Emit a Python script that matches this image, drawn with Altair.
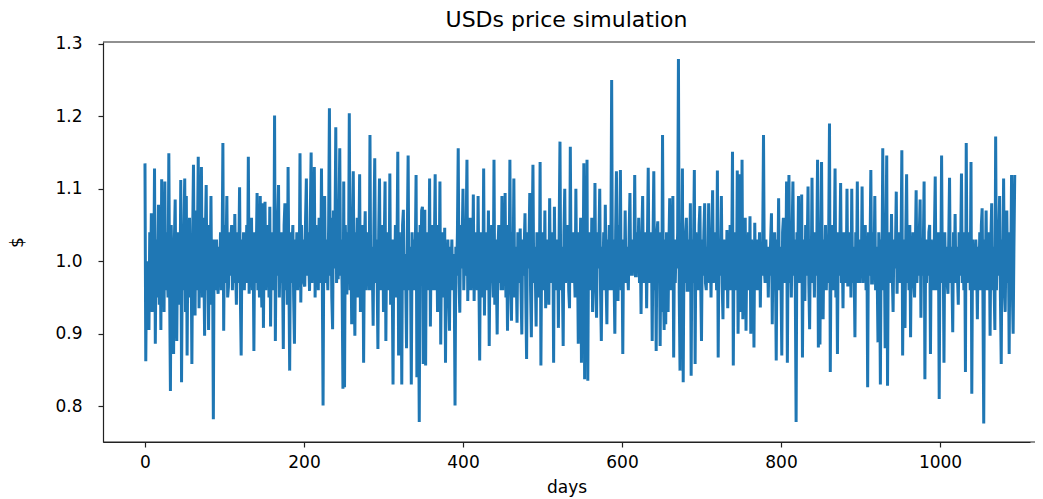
import altair as alt
import pandas as pd

# Simulated USDs price, one value per day
price_y1 = [
    1.135, 0.862, 1.00, 0.95, 0.99, 0.905, 1.04, 0.96, 1.066, 0.93,
    1.02, 0.97, 1.128, 0.886, 1.03, 0.95, 1.00, 1.078, 0.94, 1.05,
    0.905, 1.113, 0.97, 1.06, 0.93, 1.11, 0.96, 1.04, 0.99, 0.95,
    1.149, 0.96, 0.821, 1.05, 0.98, 1.02, 0.872, 1.03, 1.085, 0.95,
    0.89, 1.04, 0.97, 1.01, 0.94, 1.112, 0.833, 1.02, 0.96, 1.05,
    1.114, 0.93, 1.09, 0.87, 1.03, 0.98, 1.06, 0.95, 1.02, 0.858,
    1.04, 1.133, 0.97, 0.925, 1.07, 0.96, 1.03, 1.144, 0.935, 1.05,
    0.98, 1.13, 0.95, 1.06, 1.00, 0.897, 1.04, 1.105, 0.96, 1.02,
    0.905, 1.05, 0.97, 1.09, 0.94, 1.01, 0.782, 1.03, 0.96, 1.00,
    1.03, 0.97, 0.955, 1.02, 0.98, 1.04, 0.96, 1.01, 1.163, 0.904,
    1.05, 0.97, 1.02, 1.09, 0.95, 0.965, 1.04, 0.98, 1.03, 1.05,
    0.96, 1.02, 0.97, 1.065, 0.99, 0.94, 1.04, 0.97, 1.01, 1.102,
    0.95, 0.87, 1.03, 0.98, 1.04, 0.96, 1.02, 0.99, 1.05, 0.97,
    1.144, 0.955, 1.02, 0.98, 1.06, 0.96, 1.03, 0.876, 1.04, 0.97,
    1.01, 1.094, 0.96, 1.03, 0.95, 1.09, 0.99, 0.936, 1.08, 0.908,
    1.04, 1.082, 0.96, 1.02, 0.98, 1.05, 0.95, 1.075, 0.91, 1.03,
    0.97, 1.04, 0.96, 1.201, 0.89, 1.03, 0.98, 1.06, 1.105, 0.95,
    1.02, 0.97, 1.04, 0.99, 0.879, 1.05, 1.08, 0.96, 1.02, 0.94,
    1.13, 0.98, 0.849, 1.04, 0.97, 1.02, 1.05, 0.95, 0.886, 1.03,
    0.98, 1.04, 0.96, 1.01, 0.97, 1.149, 0.943, 1.05, 0.99, 1.03,
    0.97, 0.965, 1.06, 1.114, 0.98, 1.04, 1.00, 0.959, 1.07, 1.15,
    0.97, 1.03, 0.99, 1.13, 0.95, 1.05, 0.98, 1.02, 0.96, 1.06,
    1.00, 0.97, 1.128, 0.98, 0.801, 1.04, 1.09, 0.97, 1.03, 1.00,
    0.96, 1.05, 1.211, 0.98, 1.06, 0.95, 0.906, 1.07, 0.99, 1.04,
    1.185, 0.97, 1.02, 0.975, 1.06, 1.156, 0.98, 1.03, 0.96, 0.824,
    1.11, 0.826, 1.05, 0.99, 0.954, 1.04, 0.98, 1.204, 0.96, 1.03,
    0.913, 1.05, 1.124, 0.97, 0.897, 1.04, 0.99, 1.06, 0.95, 1.02,
    1.12, 0.93, 1.03, 0.98, 1.05, 0.86, 1.02, 1.069, 0.96, 1.01,
    0.97, 1.04, 0.96, 1.174, 0.96, 1.02, 0.99, 0.911, 1.05, 1.142,
    0.97, 1.03, 0.98, 0.879, 1.04, 1.114, 0.96, 1.02, 0.99, 1.05,
    0.93, 1.03, 1.11, 0.89, 1.04, 0.97, 1.01, 0.96, 1.121, 0.94,
    1.03, 0.98, 0.83, 1.03, 0.97, 1.05, 0.95, 1.02, 1.151, 0.87,
    1.04, 0.98, 1.02, 0.83, 1.05, 1.071, 0.96, 1.01, 0.97, 0.88,
    1.04, 1.146, 0.96, 1.02, 0.99, 0.83, 1.04, 0.98, 1.03, 0.96,
    1.01, 1.119, 0.84, 1.04, 0.97, 0.778, 1.05, 0.98, 1.07, 1.075,
    0.858, 1.03, 1.071, 0.856, 1.04, 0.97, 1.02, 0.96, 1.114, 0.91,
    1.03, 0.98, 1.05, 0.96, 1.02,
]

price_y2 = [
    1.12, 0.96, 1.03, 0.93, 1.05, 0.98, 1.11, 0.885, 1.02, 0.97,
    1.04, 0.95, 1.046, 0.86, 1.01, 0.97, 1.03, 0.95, 0.904, 1.02,
    0.98, 1.03, 0.96, 1.01, 0.97, 0.801, 1.02, 0.98, 1.04, 1.156,
    0.97, 0.929, 1.05, 0.99, 1.03, 1.10, 0.96, 1.02, 0.98, 1.05,
    1.14, 0.945, 1.03, 0.99, 1.06, 0.96, 1.01, 0.98, 1.092, 0.945,
    1.04, 0.99, 1.02, 0.96, 1.09, 0.98, 0.863, 1.04, 0.97, 1.02,
    0.95, 1.128, 0.925, 1.04, 0.98, 1.03, 0.96, 1.07, 0.883, 1.02,
    0.97, 1.05, 0.99, 0.95, 1.14, 0.94, 1.03, 0.98, 0.899, 1.02,
    1.05, 0.97, 1.01, 0.96, 1.09, 0.96, 1.03, 0.98, 1.094, 0.95,
    1.02, 0.904, 1.05, 0.97, 1.14, 0.96, 0.918, 1.04, 0.99, 1.114,
    0.95, 1.02, 0.98, 0.915, 1.04, 0.97, 1.01, 1.045, 0.96, 0.899,
    1.03, 0.98, 1.02, 1.066, 0.95, 0.865, 1.04, 0.99, 1.02, 1.094,
    0.96, 0.895, 1.03, 1.133, 0.97, 1.02, 0.98, 0.91, 1.04, 0.97,
    1.03, 0.95, 1.137, 0.856, 1.02, 0.98, 1.04, 0.96, 1.07, 0.935,
    1.02, 0.99, 1.03, 0.94, 1.087, 0.97, 1.02, 0.98, 1.04, 0.86,
    1.075, 0.97, 1.01, 0.96, 1.03, 0.908, 1.05, 1.165, 0.96, 1.02,
    0.98, 0.883, 1.04, 1.10, 0.97, 1.02, 0.99, 1.05, 0.96, 0.935,
    1.158, 0.98, 1.03, 0.97, 1.04, 0.99, 0.95, 1.10, 0.97, 1.02,
    0.886, 1.04, 0.98, 1.06, 0.86, 1.05, 0.97, 1.135, 0.837, 1.03,
    0.98, 1.14, 0.835, 1.04, 0.97, 1.02, 0.96, 1.06, 0.93, 1.03,
    0.98, 1.108, 0.96, 0.922, 1.04, 0.99, 1.03, 1.10, 0.96, 0.89,
    1.02, 0.98, 1.04, 0.96, 1.078, 0.97, 0.913, 1.03, 0.99, 1.05,
    0.96, 1.02, 1.25, 0.96, 1.03, 0.98, 0.90, 1.04, 1.124, 0.97,
    0.945, 1.05, 0.99, 1.126, 0.96, 1.02, 0.872, 1.03, 0.98, 1.07,
    0.97, 1.02, 0.99, 0.96, 1.04, 1.094, 0.98, 1.03, 0.98, 1.01,
    0.99, 1.119, 0.98, 0.98, 1.04, 1.00, 1.06, 0.97, 1.02, 0.927,
    1.04, 1.09, 0.97, 1.02, 0.99, 1.04, 0.935, 1.03, 1.129, 0.97,
    1.02, 0.98, 1.04, 0.89, 1.03, 1.124, 0.96, 1.02, 0.876, 1.04,
    1.055, 0.97, 1.02, 0.883, 1.04, 0.93, 1.174, 0.97, 0.905, 1.03,
    0.913, 1.04, 0.98, 0.93, 1.02, 1.087, 0.96, 1.03, 0.98, 1.09,
    0.867, 1.03, 0.97, 1.02, 0.99, 1.04, 1.279, 0.955, 0.849, 1.04,
    0.98, 1.128, 0.833, 1.02, 0.97, 1.04, 1.06, 0.96, 0.96, 1.03,
    0.99, 1.08, 0.842, 1.03, 0.97, 1.02, 1.126, 0.858, 1.04, 0.98,
    1.02, 0.96, 1.05, 1.076, 0.97, 0.89, 1.03, 0.98, 1.04, 1.08,
    0.97, 0.96, 1.02, 0.98, 1.08, 0.97, 1.02, 0.95, 1.04, 1.098,
    0.97, 1.02, 0.98, 1.04, 0.96, 1.125, 0.867, 1.03, 0.98, 1.02,
    1.09, 0.97, 0.92, 1.03, 0.99,
]

price_y3 = [
    1.02, 0.96, 1.043, 0.935, 1.03, 0.98, 1.05, 0.96, 1.01, 1.151,
    0.856, 1.03, 0.98, 1.04, 0.96, 1.125, 0.90, 1.02, 1.12, 0.97,
    0.93, 1.14, 0.92, 1.03, 0.98, 1.06, 0.904, 1.02, 0.97, 1.04,
    0.96, 1.062, 0.90, 1.03, 0.98, 1.02, 0.881, 1.053, 0.97, 1.01,
    0.96, 1.03, 0.99, 1.04, 0.936, 1.02, 0.98, 1.03, 1.174, 0.99,
    0.97, 1.03, 0.98, 1.02, 0.95, 1.01, 0.98, 1.03, 1.066, 0.913,
    1.02, 0.97, 1.04, 0.99, 0.863, 1.03, 0.98, 1.087, 0.96, 1.02,
    0.97, 0.87, 1.04, 1.06, 0.97, 1.02, 0.98, 1.11, 0.86, 1.03,
    1.119, 0.97, 1.02, 0.95, 1.04, 1.11, 0.98, 1.03, 0.96, 0.778,
    1.04, 0.99, 1.09, 0.97, 1.02, 0.98, 1.092, 0.867, 1.03, 0.99,
    0.945, 1.05, 0.98, 1.02, 1.103, 0.97, 0.906, 1.03, 0.98, 1.115,
    0.97, 1.02, 0.95, 1.04, 0.98, 1.02, 1.14, 0.881, 1.03, 0.885,
    1.04, 1.137, 0.97, 0.92, 1.03, 0.98, 1.05, 0.96, 1.02, 0.97,
    1.04, 1.19, 0.847, 1.03, 0.98, 1.05, 0.96, 1.02, 1.128, 0.95,
    1.03, 0.872, 1.04, 0.98, 1.02, 1.108, 0.97, 1.02, 0.935, 1.04,
    0.98, 1.03, 0.97, 1.10, 0.965, 1.02, 0.99, 1.04, 0.95, 1.10,
    0.97, 1.02, 0.99, 0.895, 1.04, 0.98, 1.11, 0.97, 1.03, 0.97,
    1.02, 0.98, 1.103, 0.97, 1.02, 0.99, 1.05, 0.96, 1.03, 0.826,
    1.04, 0.98, 1.02, 1.126, 0.97, 0.97, 1.04, 0.99, 1.09, 0.96,
    1.02, 0.98, 0.888, 1.04, 1.00, 0.83, 1.03, 0.98, 1.156, 0.96,
    1.02, 0.88, 1.04, 1.146, 0.828, 1.03, 0.98, 1.04, 0.97, 1.065,
    0.98, 0.93, 1.03, 0.99, 1.02, 1.096, 0.955, 1.03, 0.98, 1.04,
    0.97, 1.02, 1.153, 0.87, 1.03, 0.98, 0.908, 1.04, 1.12, 0.97,
    1.02, 0.96, 1.05, 0.895, 1.03, 0.98, 1.04, 0.97, 0.95, 1.02,
    1.098, 0.97, 1.02, 0.98, 1.04, 1.085, 0.922, 1.03, 0.98, 1.02,
    1.11, 0.837, 1.03, 0.97, 1.02, 0.98, 1.04, 1.05, 0.872, 1.03,
    0.98, 1.02, 0.96, 1.04, 1.117, 0.96, 1.02, 0.98, 1.04, 0.81,
    1.03, 0.98, 1.146, 0.97, 1.02, 0.86, 1.04, 0.98, 1.02, 0.97,
    0.955, 1.03, 1.115, 0.97, 1.02, 0.98, 0.902, 1.04, 0.98, 1.065,
    0.97, 1.02, 0.98, 0.94, 1.04, 0.98, 1.02, 1.121, 0.97, 1.02,
    0.96, 1.04, 0.847, 1.163, 0.97, 1.02, 0.98, 1.04, 0.96, 1.137,
    0.817, 1.03, 0.98, 1.02, 0.96, 1.03, 1.00, 0.92, 1.02, 0.97,
    1.04, 0.96, 1.05, 1.073, 0.95, 0.776, 1.03, 0.98, 1.07, 0.96,
    1.02, 0.97, 1.04, 0.897, 1.03, 1.08, 0.96, 1.02, 0.97, 0.905,
    1.172, 0.96, 1.03, 0.98, 1.04, 1.09, 0.95, 0.858, 1.03, 0.98,
    1.114, 0.96, 0.93, 1.02, 1.07, 0.97, 1.03, 0.872, 1.04, 0.98,
    1.119, 0.96, 0.90, 1.02, 1.119,
]

x_ticks = [0, 200, 400, 600, 800, 1000]
y_ticks = [0.8, 0.9, 1.0, 1.1, 1.2, 1.3]

prices = price_y1 + price_y2 + price_y3
df = pd.DataFrame({"day": list(range(len(prices))), "price": prices})
frame_df = pd.DataFrame({"k": [0]})

W, H = 927, 400
FONT = "DejaVu Sans"

line = alt.Chart(df).mark_line(color="#1f77b4", strokeWidth=3).encode(
    x=alt.X(
        "day:Q",
        scale=alt.Scale(domain=[-52.8, 1113.2], nice=False, zero=False),
        axis=alt.Axis(values=x_ticks, title="days", format="d", grid=False,
                      labelPadding=7, titlePadding=9),
    ),
    y=alt.Y(
        "price:Q",
        scale=alt.Scale(domain=[0.7505, 1.3025], nice=False, zero=False),
        axis=alt.Axis(values=y_ticks, title="$", format=".1f", grid=False,
                      labelPadding=16, titlePadding=28),
    ),
)

top_rule = alt.Chart(frame_df).mark_rule(color="#222222", strokeWidth=1.2).encode(
    x=alt.value(0), x2=alt.value(932), y=alt.value(0)
)
bottom_rule = alt.Chart(frame_df).mark_rule(color="#222222", strokeWidth=1.2).encode(
    x=alt.value(0), x2=alt.value(932), y=alt.value(H)
)

chart = (
    alt.layer(line, top_rule, bottom_rule)
    .properties(
        width=W,
        height=H,
        title=alt.TitleParams("USDs price simulation", fontSize=22, font=FONT,
                              fontWeight="normal", color="black", offset=3),
        autosize=alt.AutoSizeParams(type="none"),
        padding={"left": 95, "top": 34, "right": 5, "bottom": 57},
    )
    .configure_view(stroke=None)
    .configure_axis(
        labelFont=FONT, titleFont=FONT, labelFontSize=17, titleFontSize=17,
        titleFontWeight="normal", labelColor="black", titleColor="black",
        domainColor="#222222", tickColor="#222222", domainWidth=1.2, tickWidth=1.2,
        tickSize=5,
    )
)

chart.save("out.html", embed_options={"renderer": "svg", "actions": False})
